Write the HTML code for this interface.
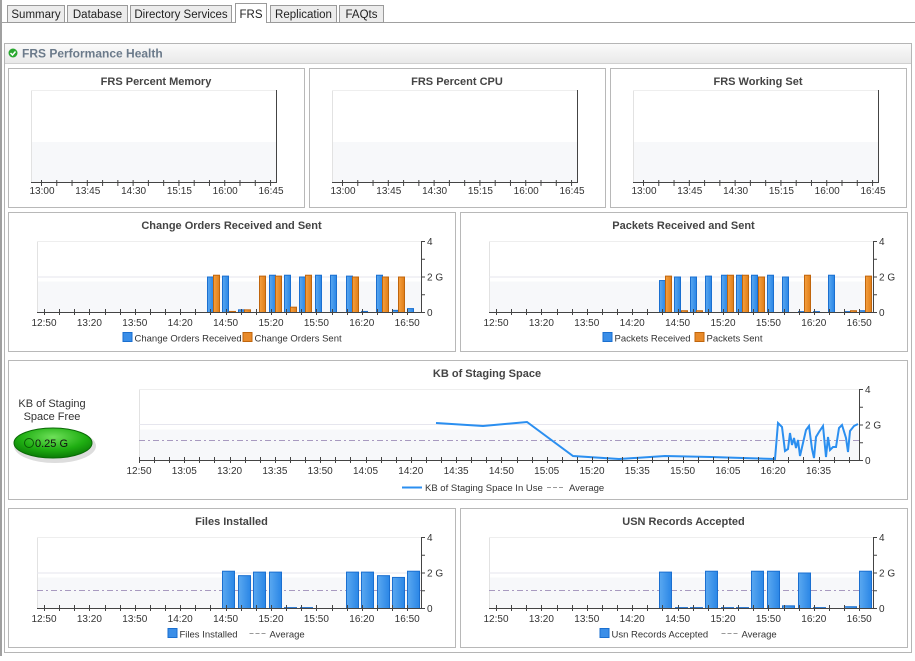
<!DOCTYPE html>
<html><head><meta charset="utf-8">
<style>
body{margin:0;width:915px;height:656px;overflow:hidden;background:#fff;font-family:"Liberation Sans",sans-serif}
svg text{font-family:"Liberation Sans",sans-serif}
</style></head><body>
<svg id="s" width="915" height="656" xmlns="http://www.w3.org/2000/svg"></svg>
<script>
let o='';
function R(x,y,w,h,f,st,sw,rx){o+=`<rect x="${x}" y="${y}" width="${w}" height="${h}" fill="${f}" ${st?`stroke="${st}" stroke-width="${sw||1}"`:''} ${rx?`rx="${rx}"`:''}/>`;}
function L(x1,y1,x2,y2,c,w,d){o+=`<line x1="${x1}" y1="${y1}" x2="${x2}" y2="${y2}" stroke="${c}" stroke-width="${w||1}" ${d?`stroke-dasharray="${d}"`:''}/>`;}
function T(x,y,t,s,c,a,b){o+=`<text x="${x}" y="${y}" font-size="${s}" fill="${c}" text-anchor="${a||'middle'}" ${b?'font-weight="bold"':''}>${t}</text>`;}
R(0,0,915,656,'#fff');
R(0,0,2,656,'#a0a0a0');
L(2,22.5,915,22.5,'#a0a0a0');
const tabs=[[7,58,'Summary'],[67,61,'Database'],[130,102,'Directory Services'],[235,32,'FRS'],[270,67,'Replication'],[339,45,'FAQts']];
tabs.forEach(([x,w,t])=>{let a=t=='FRS';R(x+.5,a?3.5:5.5,w-1,a?19:17,a?'#fff':'#ececec','#9a9a9a');if(a)R(x+1,21,w-2,3,'#fff');T(x+w/2,18,t,11.5,'#222');});
R(4.5,43.5,907,609,'#fff','#b5b5b5');
o+=`<defs><linearGradient id="hg" x1="0" y1="0" x2="0" y2="1"><stop offset="0" stop-color="#fafafa"/><stop offset="1" stop-color="#e9e9e9"/></linearGradient>
<linearGradient id="bb" x1="0" y1="0" x2="1" y2="0"><stop offset="0" stop-color="#5aa8f0"/><stop offset="1" stop-color="#2a86e6"/></linearGradient>
<linearGradient id="ob" x1="0" y1="0" x2="1" y2="0"><stop offset="0" stop-color="#f5a040"/><stop offset="1" stop-color="#e07e18"/></linearGradient>
<radialGradient id="gg" cx="0.5" cy="0.3" r="0.7"><stop offset="0" stop-color="#6fe05a"/><stop offset="0.6" stop-color="#1fae12"/><stop offset="1" stop-color="#0a7a06"/></radialGradient></defs>`;
R(5,44,906,19,'url(#hg)');L(5,63.5,911,63.5,'#d0d0d0');
o+=`<circle cx="13" cy="53" r="4.5" fill="#2aa830"/><path d="M10.5 53l2 2 3-3.5" stroke="#fff" stroke-width="1.5" fill="none"/>`;
T(22,57.5,'FRS Performance Health',12,'#6b7a8a','start',1);
function box(x,y,w,h){R(x+.5,y+.5,w,h,'#fff','#b8b8b8');}
[[8,'FRS Percent Memory'],[309,'FRS Percent CPU'],[610,'FRS Working Set']].forEach(([bx,t])=>{
 box(bx,68,296,139);T(bx+148,85,t,11,'#444','middle',1);
 let px=bx+23,pr=bx+268;
 R(px,90.5,pr-px,92,'#fff');R(px,142,pr-px,40,'#f7f8fa');L(px+.5,90,px+.5,182,'#e2e2e2');L(px,90.5,pr,90.5,'#eee');
 L(pr+.5,90,pr+.5,182,'#444');L(px,182.5,pr+1,182.5,'#444');
 for(let i=0;i<16;i++){let x=bx+33.5+i*15.27;L(x,180,x,186,'#444');}
 ['13:00','13:45','14:30','15:15','16:00','16:45'].forEach((l,i)=>T(bx+34+i*45.8,194,l,10,'#333'));
});
function barChart(bx,by,w,h,title,px,pr,top,bot,xl,x0,xs,bars,bw,leg,avg){
 box(bx,by,w,h);T(bx+w/2,by+17,title,11,'#444','middle',1);
 const sc=(bot-top)/4,y2=bot-2*sc;
 R(px,y2+5,pr-px,bot-y2-5,'#f7f8fa');L(px+.5,top,px+.5,bot,'#e2e2e2');L(px,top+.5,pr,top+.5,'#eee');L(px,y2+.5,pr,y2+.5,'#e6e6ee');
 if(avg)L(px,avg+.5,pr,avg+.5,'#a89ac0',1,'6,3,2,3');
 bars.forEach(([x,v,c])=>{let hh=v*sc;R(x+.5,bot-hh+.5,bw-1,hh,c=='o'?'url(#ob)':'url(#bb)',c=='o'?'#c0650c':'#1a6fd0');});
 L(pr+.5,top,pr+.5,bot,'#444');L(px,bot+.5,pr+4,bot+.5,'#444');
 for(let i=0;i<=4;i++){let y=bot-i*sc;L(pr,y+.5,pr+4,y+.5,'#444');}
 T(pr+6,top+4,'4',10,'#333','start');T(pr+6,y2+4,'2 G',10,'#333','start');T(pr+6,bot+4,'0',10,'#333','start');
 for(let x=x0;x<pr;x+=xs/3)L(Math.round(x)+.5,bot-3,Math.round(x)+.5,bot+3,'#444');
 xl.forEach((l,i)=>T(x0+i*xs,bot+14,l,10,'#333'));
 let lx=bx+w/2-leg.w/2;
 leg.items.forEach(([t,c,tw])=>{ if(c=='d'){L(lx,by+h-13.5,lx+16,by+h-13.5,'#999',1,'4,2');lx+=20;}else{R(lx+.5,by+h-18.5,9,9,c=='o'?'#e88a2a':'#3a8ee8',c=='o'?'#c0650c':'#1a6fd0');lx+=12;} T(lx,by+h-9.5,t,9.5,'#333','start');lx+=tw;});
}
const xl9=['12:50','13:20','13:50','14:20','14:50','15:20','15:50','16:20','16:50'];
const co=[[207,2,'b'],[213,2.1,'o'],[222,2.05,'b'],[229,.06,'o'],[238,.15,'b'],[244,.15,'o'],[259,2.05,'o'],[269,2.1,'b'],[275,2.05,'o'],[284,2.1,'b'],[290,.3,'o'],[299,2,'b'],[305,2.1,'o'],[315,2.1,'b'],[330,2.1,'b'],[346,2.05,'b'],[352,2,'o'],[361,.06,'b'],[376,2.1,'b'],[382,2,'o'],[392,.12,'b'],[398,2,'o'],[407,.22,'b']];
barChart(8,212,447,139,'Change Orders Received and Sent',37,421,241,312,xl9,44,45.4,co,7,{w:218,items:[['Change Orders Received','b',108],['Change Orders Sent','o',100]]});
const pk=[[659,1.8,'b'],[665,2.05,'o'],[674,2,'b'],[681,.1,'o'],[690,2,'b'],[696,.1,'o'],[705,2.05,'b'],[721,2.1,'b'],[727,2.1,'o'],[736,2.1,'b'],[742,2.1,'o'],[751,2.1,'b'],[758,2,'o'],[767,2.1,'b'],[782,2,'b'],[798,.05,'b'],[804,2.1,'o'],[813,.05,'b'],[828,2.1,'b'],[844,.05,'b'],[850,.1,'o'],[859,.1,'b'],[865,2.05,'o']];
barChart(460,212,447,139,'Packets Received and Sent',489,873,241,312,xl9,496,45.4,pk,7,{w:162,items:[['Packets Received','b',80],['Packets Sent','o',70]]});
box(8,360,899,139);T(487,377,'KB of Staging Space',11,'#444','middle',1);
(function(){const px=139,pr=859,top=389,bot=460,sc=17.75,y2=424.5;
 R(px,y2+5,pr-px,bot-y2-5,'#f7f8fa');L(px+.5,top,px+.5,bot,'#e2e2e2');L(px,top+.5,pr,top+.5,'#eee');L(px,y2,pr,y2,'#e6e6ee');
 L(px,440.5,pr,440.5,'#a89ac0',1,'6,3,2,3');
 const pts=[[436,423],[483,426],[527,422],[573,456],[619,459],[665,456],[711,457],[775,459],[778,423],[782,427],[785,451],[788,449],[790,433],[792,445],[794,438],[796,448],[798,440],[800,456],[803,443],[806,430],[809,426],[812,449],[814,458],[816,437],[819,432],[823,426],[826,457],[828,437],[830,450],[833,447],[836,447],[839,428],[842,425],[846,438],[848,452],[850,431],[854,426],[858,424]];
 o+=`<polyline points="${pts.map(p=>p.join(',')).join(' ')}" fill="none" stroke="#2b8ff0" stroke-width="2"/>`;
 L(pr+.5,top,pr+.5,bot,'#444');L(px,bot+.5,pr+4,bot+.5,'#444');
 for(let i=0;i<=4;i++){let y=bot-i*sc;L(pr,y+.5,pr+4,y+.5,'#444');}
 T(pr+6,top+4,'4',10,'#333','start');T(pr+6,y2+4,'2 G',10,'#333','start');T(pr+6,bot+4,'0',10,'#333','start');
 for(let x=139;x<pr;x+=15.1)L(Math.round(x)+.5,bot-3,Math.round(x)+.5,bot+3,'#444');
 ['12:50','13:05','13:20','13:35','13:50','14:05','14:20','14:35','14:50','15:05','15:20','15:35','15:50','16:05','16:20','16:35'].forEach((l,i)=>T(139+i*45.3,474,l,10,'#333'));
 L(402,487.5,422,487.5,'#2b8ff0',2);T(425,491,'KB of Staging Space In Use',9.5,'#333','start');L(547,487.5,563,487.5,'#999',1,'4,2');T(569,491,'Average',9.5,'#333','start');
})();
T(52,407,'KB of Staging',11,'#333');T(52,420,'Space Free',11,'#333');
o+=`<ellipse cx="55" cy="446" rx="41" ry="17" fill="#ddd"/><ellipse cx="53" cy="443" rx="39" ry="15" fill="url(#gg)" stroke="#0a6a06"/><circle cx="29" cy="443" r="4.5" fill="none" stroke="#0a5a06"/>`;
T(35,447,'0.25 G',11,'#111','start');
const fi=[[222,2.1],[238,1.85],[253,2.05],[269,2.05],[284,.05],[300,.05],[346,2.05],[361,2.05],[377,1.85],[392,1.75],[407,2.1]].map(a=>[a[0],a[1],'b']);
barChart(8,508,447,139,'Files Installed',37,421,537,608,xl9,44,45.4,fi,13,{w:128,items:[['Files Installed','b',70],['Average','d',40]]},590);
const us=[[659,2.05],[675,.05],[690,.05],[705,2.1],[721,.05],[736,.05],[751,2.1],[767,2.1],[782,.15],[798,2],[813,.05],[844,.1],[859,2.1]].map(a=>[a[0],a[1],'b']);
barChart(460,508,447,139,'USN Records Accepted',489,873,537,608,xl9,496,45.4,us,13,{w:168,items:[['Usn Records Accepted','b',110],['Average','d',40]]},590);
document.getElementById('s').innerHTML=o;
</script>
</body></html>
